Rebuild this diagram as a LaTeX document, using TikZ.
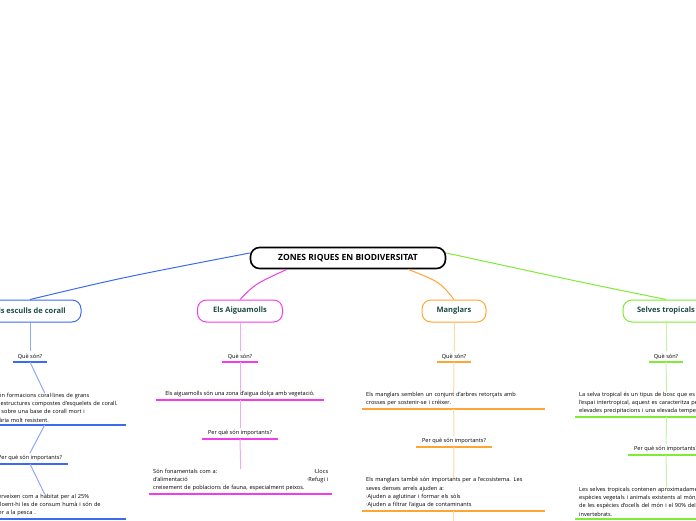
\documentclass[tikz,border=0pt]{standalone}
\usepackage{fontspec}
\setmainfont{Open Sans}
\definecolor{cblue}{HTML}{3B6CF0}
\definecolor{cblueL}{HTML}{8EA9F5}
\definecolor{cmag}{HTML}{F03CEB}
\definecolor{cmagL}{HTML}{F7A6F4}
\definecolor{corg}{HTML}{FFA534}
\definecolor{corgL}{HTML}{FFD6A6}
\definecolor{cgrn}{HTML}{7EEB35}
\definecolor{cgrnL}{HTML}{C4F3A6}
\definecolor{cteal}{HTML}{1E4A45}
\tikzset{
  rootbox/.style={draw, rounded corners=9pt, line width=1.6pt, minimum width=195pt, minimum height=21pt, font=\bfseries\fontsize{8.5}{10}\selectfont},
  branch/.style={draw=#1, rounded corners=9pt, line width=1pt, minimum height=22pt, text=cteal, font=\bfseries\fontsize{7.5}{9}\selectfont},
  lbl/.style={font=\fontsize{5.6}{8.4}\selectfont, inner ysep=2.5pt},
  txt/.style={lbl, text width=175pt, inner xsep=4pt, align=left},
  ul/.style={line width=1.5pt, #1},
  vline/.style={line width=1pt, #1}
}
\begin{document}
\begin{tikzpicture}[x=1pt,y=-1pt]
  \useasboundingbox (0,0) rectangle (696,520);
  \clip (0,0) rectangle (696,520);

  % root
  \node[rootbox] (root) at (348,258) {ZONES RIQUES EN BIODIVERSITAT};

  % branches
  \node[branch=cblue, minimum width=102pt] (c) at (30,311) {Els esculls de corall};
  \node[branch=cmag, minimum width=85pt] (a) at (240,311) {Els Aiguamolls};
  \node[branch=corg, minimum width=64pt] (m) at (454,311) {Manglars};
  \node[branch=cgrn, minimum width=86pt] (s) at (666,311) {Selves tropicals};

  \draw[line width=1pt, cblue] ([yshift=5pt]root.west) .. controls (120,278) .. (c.north);
  \draw[line width=1pt, cmag] ([xshift=-61pt]root.south) .. controls (255,284) .. (a.north);
  \draw[line width=1pt, corg] ([xshift=60pt]root.south) .. controls (440,282) .. (m.north);
  \draw[line width=1pt, cgrn] ([yshift=5pt]root.east) .. controls (580,282) .. (s.north);

  % esculls de corall
  \node[lbl, anchor=south, minimum width=34pt] (cq) at (30,362) {Què són?};
  \node[txt, text width=155pt, anchor=south west] (ct1) at (-37,425)
    {Els esculls són formacions coral·lines de grans\\dimensions, estructures compostes d'esquelets de corall.\\Van creixent sobre una base de corall mort i\\matèria calcària molt resistent.};
  \node[lbl, anchor=south, minimum width=76pt] (cp) at (30,464) {Per què són importants?};
  \node[txt, text width=155pt, anchor=south west] (ct2) at (-37,519)
    {Els esculls serveixen com a hàbitat per al 25\%\\espècies, incloent-hi les de consum humà i són de\\important per a la pesca .};
  \foreach \n in {cq,ct1,cp,ct2} \draw[ul=cblue] (\n.south west) -- (\n.south east);
  \draw[vline=cblueL] (c.south) -- (cq.north);
  \draw[vline=cblueL] (cq.south) -- ([yshift=-3pt]ct1.north);
  \draw[vline=cblueL] (ct1.south) -- (cp.north);
  \draw[vline=cblueL] (cp.south) -- ([yshift=-3pt]ct2.north);

  % aiguamolls
  \node[lbl, anchor=south, minimum width=35pt] (aq) at (240,362) {Què són?};
  \node[lbl, anchor=south, minimum width=168pt] (at1) at (240,400) {Els aiguamolls són una zona d'aigua dolça amb vegetació.};
  \node[lbl, anchor=south, minimum width=76pt] (ap) at (240,439) {Per què són importants?};
  \node[txt, anchor=south west] (at2) at (149,494)
    {Són fonamentals com a:\hfill·Llocs\hspace*{2pt}\\d'alimentació\hfill·Refugi i\hspace*{12pt}\\creixement de poblacions de fauna, especialment peixos.};
  \foreach \n in {aq,at1,ap,at2} \draw[ul=cmag] (\n.south west) -- (\n.south east);
  \draw[vline=cmagL] (a.south) -- (aq.north);
  \draw[vline=cmagL] (aq.south) -- ([yshift=-3pt]at1.north);
  \draw[vline=cmagL] (at1.south) -- (ap.north);
  \draw[vline=cmagL] (ap.south) -- ([yshift=-3pt]at2.north);

  % manglars
  \node[lbl, anchor=south, minimum width=34pt] (mq) at (454,362) {Què són?};
  \node[txt, anchor=south west] (mt1) at (362,409)
    {Els manglars semblen un conjunt d'arbres retorçats amb\\crosses per sostenir-se i créixer.};
  \node[lbl, anchor=south, minimum width=76pt] (mp) at (454,447) {Per què són importants?};
  \node[txt, anchor=south west] (mt2) at (362,511)
    {Els manglars també són importants per a l'ecosistema. Les\\seves denses arrels ajuden a:\\·Ajuden a aglutinar i formar els sòls\\·Ajuden a filtrar l'aigua de contaminants};
  \foreach \n in {mq,mt1,mp,mt2} \draw[ul=corg] (\n.south west) -- (\n.south east);
  \draw[vline=corgL] (m.south) -- (mq.north);
  \draw[vline=corgL] (mq.south) -- ([yshift=-3pt]mt1.north);
  \draw[vline=corgL] (mt1.south) -- (mp.north);
  \draw[vline=corgL] (mp.south) -- ([yshift=-3pt]mt2.north);
  \draw[vline=corgL] (mt2.south) -- ++(0,20);

  % selves tropicals
  \node[lbl, anchor=south, minimum width=33pt] (sq) at (666,362) {Què són?};
  \node[txt, anchor=south west] (st1) at (575,417)
    {La selva tropical és un tipus de bosc que es troba en\\l'espai intertropical, aquest es caracteritza per les\\elevades precipitacions i una elevada temperatura.};
  \node[lbl, anchor=south, minimum width=76pt] (sp) at (666,455) {Per què són importants?};
  \node[txt, anchor=south west] (st2) at (575,519)
    {Les selves tropicals contenen aproximadament el 50\% de les\\espècies vegetals i animals existents al món, el 70\%\\de les espècies d'ocells del món i el 90\% dels\\invertebrats.};
  \foreach \n in {sq,st1,sp,st2} \draw[ul=cgrn] (\n.south west) -- (\n.south east);
  \draw[vline=cgrnL] (s.south) -- (sq.north);
  \draw[vline=cgrnL] (sq.south) -- ([yshift=-3pt]st1.north);
  \draw[vline=cgrnL] (st1.south) -- (sp.north);
  \draw[vline=cgrnL] (sp.south) -- ([yshift=-3pt]st2.north);
\end{tikzpicture}
\end{document}
